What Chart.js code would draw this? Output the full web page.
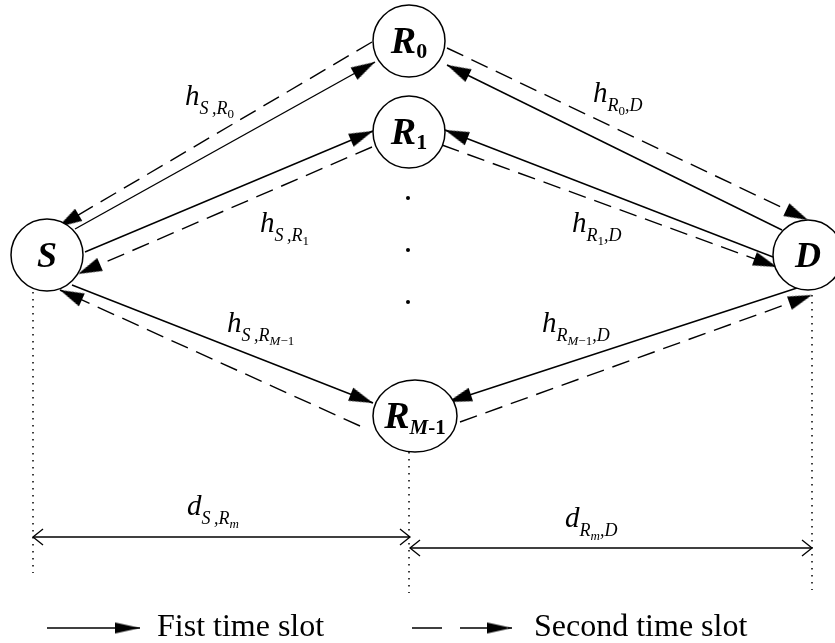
<!DOCTYPE html>
<html>
<head>
<meta charset="utf-8">
<script src="https://cdn.jsdelivr.net/npm/chart.js@4.4.1/dist/chart.umd.min.js"></script>
<style>
  html, body { margin: 0; padding: 0; background: #fff; }
</style>
</head>
<body>
<canvas id="diagram" width="835" height="643"></canvas>
<script>
// nodes: source, relays, destination
const nodeNames = ["S", "R", "R", "D", "R"];
const nodeSubs = ["", "0", "1", "", "M-1"];
const nodeX = [47, 409, 409, 808, 415];
const nodeY = [255, 41, 132, 255, 416];

// first time slot (solid) links, arrow at the "to" end
const solidFrom = [[75, 229], [85, 252], [72, 285], [782, 230], [773, 257], [797, 288]];
const solidTo = [[375, 62], [373, 131], [373, 403], [447, 65], [445, 130], [448, 402]];

// second time slot (dashed) links
const dashFrom = [[372, 42], [372, 147], [360, 426], [447, 48], [442, 145], [460, 422]];
const dashTo = [[58, 227], [78, 274], [60, 290], [808, 220], [777, 267], [812, 295]];

// the vertical ellipsis between R1 and R_{M-1}
const dotsX = [408, 408, 408];
const dotsY = [198, 250, 302];

// dotted guides and distance spans
const guideX = [33, 409, 812];
const guideTop = [292, 452, 295];
const guideBottom = [573, 593, 590];
const spanStart = [33, 410];
const spanEnd = [410, 812];
const spanY = [537, 548];

// channel / distance labels
const labelMain = ["h", "h", "h", "h", "h", "h", "d", "d"];
const labelSub = ["S\u2009,R", "S\u2009,R", "S\u2009,R", "R", "R", "R", "S\u2009,R", "R"];
const labelSubSub = ["0", "1", "M\u22121", "0", "1", "M\u22121", "m", "m"];
const labelTail = ["", "", "", ",D", ",D", ",D", "", ",D"];
const labelX = [185, 260, 227, 593, 572, 542, 187, 565];
const labelY = [105, 232, 332, 102, 232, 332, 515, 527];

// legend
const legendText = ["Fist time slot", "Second time slot"];
const legendLineX = [[47, 140], [412, 512]];
const legendY = 628;
const legendTextX = [157, 534];

const SERIF = '"Liberation Serif", "Times New Roman", serif';

const makeArrow = (len, half, open) => {
  const c = document.createElement("canvas");
  c.width = len * 2 + 2;
  c.height = half * 2 + 4;
  const g = c.getContext("2d");
  const cx = c.width / 2, cy = c.height / 2;
  g.beginPath();
  g.moveTo(cx - len, cy - half);
  g.lineTo(cx, cy);
  g.lineTo(cx - len, cy + half);
  if (open) {
    g.lineWidth = 1.3;
    g.strokeStyle = "#000";
    g.stroke();
  } else {
    g.closePath();
    g.fillStyle = "#000";
    g.fill();
  }
  return c;
};

const makeEllipse = (rx, ry) => {
  const c = document.createElement("canvas");
  c.width = rx * 2 + 4;
  c.height = ry * 2 + 4;
  const g = c.getContext("2d");
  g.beginPath();
  g.ellipse(c.width / 2, c.height / 2, rx, ry, 0, 0, Math.PI * 2);
  g.fillStyle = "#fff";
  g.fill();
  g.lineWidth = 1.5;
  g.strokeStyle = "#000";
  g.stroke();
  return c;
};

const headLink = makeArrow(24, 7, false);
const headLegend = makeArrow(25, 5.5, false);
const headSpan = makeArrow(10, 8, true);
const relayEllipse = makeEllipse(42, 36);

// rotation of a 2-point segment's end marker, in degrees
const tipAngle = (ctx) => {
  const d = ctx.dataset.data;
  const i = ctx.dataIndex, j = i === 0 ? 1 : 0;
  const sx = ctx.chart.scales.x, sy = ctx.chart.scales.y;
  const dx = sx.getPixelForValue(d[i].x) - sx.getPixelForValue(d[j].x);
  const dy = sy.getPixelForValue(d[i].y) - sy.getPixelForValue(d[j].y);
  return (Math.atan2(dy, dx) * 180) / Math.PI;
};

const segment = (x0, y0, x1, y1, dash, ends, head, width) => ({
  data: [{ x: x0, y: y0 }, { x: x1, y: y1 }],
  showLine: true,
  borderColor: "#000",
  borderWidth: width || 1.4,
  borderDash: dash,
  pointStyle: head || "circle",
  pointRadius: (c) => (ends.includes(c.dataIndex) ? 5 : 0),
  pointRotation: tipAngle,
  order: 2,
  clip: false,
});

const datasets = [];

// nodes on top
datasets.push({
  data: nodeX.map((x, i) => ({ x, y: nodeY[i] })),
  pointStyle: (c) => (c.dataIndex === 4 ? relayEllipse : "circle"),
  pointRadius: (c) => [36, 36, 36, 35, 36][c.dataIndex],
  pointBackgroundColor: "#fff",
  pointBorderColor: "#000",
  pointBorderWidth: 1.5,
  order: 0,
  clip: false,
});

solidFrom.forEach((p, i) => {
  datasets.push(segment(p[0], p[1], solidTo[i][0], solidTo[i][1], [], [1], headLink));
});
dashFrom.forEach((p, i) => {
  datasets.push(segment(p[0], p[1], dashTo[i][0], dashTo[i][1], [18, 9], [1], headLink));
});

datasets.push({
  data: dotsX.map((x, i) => ({ x, y: dotsY[i] })),
  pointRadius: 2,
  pointBackgroundColor: "#000",
  pointBorderWidth: 0,
  order: 1,
});

guideX.forEach((x, i) => {
  datasets.push(segment(x, guideTop[i], x, guideBottom[i], [1.5, 5.5], [], null, 1.5));
});

spanStart.forEach((x, i) => {
  datasets.push(segment(x, spanY[i], spanEnd[i], spanY[i], [], [0, 1], headSpan, 1.3));
});

datasets.push(segment(legendLineX[0][0], legendY, legendLineX[0][1], legendY, [], [1], headLegend, 1.4));
datasets.push(segment(legendLineX[1][0], legendY, legendLineX[1][1], legendY, [30, 18], [1], headLegend, 1.4));

const drawRuns = (g, x, y, runs, measureOnly) => {
  let cx = x;
  runs.forEach(([t, font, dy]) => {
    g.font = font;
    if (!measureOnly) g.fillText(t, cx, y + dy);
    cx += g.measureText(t).width;
  });
  return cx - x;
};

const splitRuns = (text, size, bold, dy) =>
  text.split("").map((ch) => {
    const letter = /[A-Za-z]/.test(ch);
    const f = (letter ? "italic " : "") + (bold ? "bold " : "") + size + "px " + SERIF;
    return [ch, f, dy];
  });

const textPlugin = {
  id: "diagramText",
  afterDatasetsDraw(chart) {
    const g = chart.ctx;
    const sx = chart.scales.x, sy = chart.scales.y;
    g.save();
    g.fillStyle = "#000";
    g.textBaseline = "alphabetic";
    g.textAlign = "left";

    // node names
    nodeNames.forEach((name, i) => {
      const big = name === "R" ? 38 : 36;
      const runs = [[name, "italic bold " + big + "px " + SERIF, 0]];
      if (nodeSubs[i]) {
        const size = nodeSubs[i].length > 1 ? 21 : 22;
        runs.push(...splitRuns(nodeSubs[i], size, true, nodeSubs[i].length > 1 ? 6 : 5));
      }
      const w = drawRuns(g, 0, 0, runs, true);
      const cx = sx.getPixelForValue(nodeX[i]);
      const cy = sy.getPixelForValue(nodeY[i]);
      drawRuns(g, cx - w / 2, cy + 12, runs);
    });

    // channel and distance labels
    labelMain.forEach((m, i) => {
      const runs = [[m, "italic 29px " + SERIF, 0], [labelSub[i], "italic 18px " + SERIF, 9]];
      runs.push(...splitRuns(labelSubSub[i], 13, false, 13));
      if (labelTail[i]) runs.push([labelTail[i], "italic 18px " + SERIF, 9]);
      drawRuns(g, sx.getPixelForValue(labelX[i]), sy.getPixelForValue(labelY[i]), runs);
    });

    // legend texts
    g.font = "32px " + SERIF;
    legendText.forEach((t, i) => {
      g.fillText(t, sx.getPixelForValue(legendTextX[i]), sy.getPixelForValue(legendY) + 8);
    });
    g.restore();
  },
};

new Chart(document.getElementById("diagram"), {
  type: "scatter",
  data: { datasets },
  options: {
    responsive: false,
    animation: false,
    devicePixelRatio: 1,
    events: [],
    layout: { padding: 0, autoPadding: false },
    scales: {
      x: { type: "linear", min: 0, max: 835, display: false },
      y: { type: "linear", min: 0, max: 643, reverse: true, display: false },
    },
    plugins: { legend: { display: false }, tooltip: { enabled: false } },
  },
  plugins: [textPlugin],
});
</script>
</body>
</html>
